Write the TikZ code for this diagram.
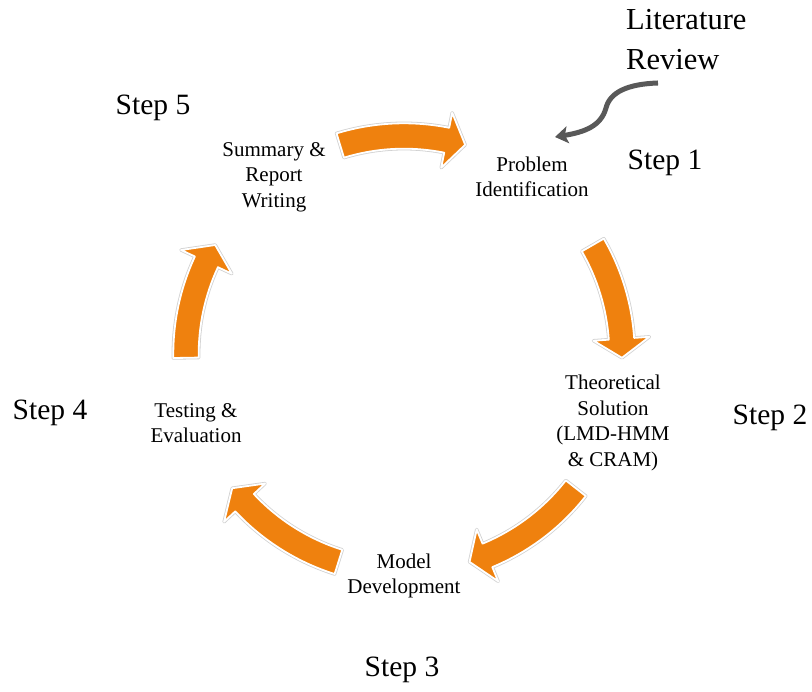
\documentclass[tikz,border=0pt]{standalone}
\usepackage{fontspec}
\setmainfont{Liberation Serif}
\usetikzlibrary{arrows.meta}

\definecolor{cycleorange}{RGB}{239,129,14}
\definecolor{leadgrey}{RGB}{89,89,89}

\tikzset{
  steplabel/.style={font=\fontsize{29.5}{35}\selectfont, inner sep=0pt},
  phase/.style={font=\fontsize{21}{25.5}\selectfont, align=center, inner sep=0pt},
  cycleshadow/.style={draw=black!18, line width=3.4pt, line join=round},
  cyclebody/.style={fill=cycleorange, draw=white, line width=1.8pt, line join=round},
  leadarrow/.style={draw=leadgrey, line width=5pt,
    -{Stealth[length=13pt,width=17pt,inset=3pt]}},
}

% Curved block arrow on the cycle ring, running clockwise
% from angle #1 (tail) to angle #2 (tip).
\newcommand\cyclearrow[2]{%
  \pgfmathsetmacro\headback{#2+5}%
  \path[cycleshadow] (#1:230.7) arc[start angle=#1,end angle=\headback,radius=230.7]
    -- (\headback:246) -- (#2:218) -- (\headback:190) -- (\headback:205.3)
    arc[start angle=\headback,end angle=#1,radius=205.3] -- cycle;
  \path[cyclebody] (#1:230.7) arc[start angle=#1,end angle=\headback,radius=230.7]
    -- (\headback:246) -- (#2:218) -- (\headback:190) -- (\headback:205.3)
    arc[start angle=\headback,end angle=#1,radius=205.3] -- cycle;
}

\begin{document}
\begin{tikzpicture}[x=1pt,y=1pt]
  \useasboundingbox (0,0) rectangle (812,692);

  % ring of process arrows
  \begin{scope}[shift={(404,338)}]
    \cyclearrow{107}{73.7}
    \cyclearrow{30}{-1}
    \cyclearrow{-38}{-72.5}
    \cyclearrow{-107.5}{-142}
    \cyclearrow{181}{150}
  \end{scope}

  % phases
  \node[phase] (problem) at (532,515) {Problem\\Identification};
  \node[phase] (theory) at (613,269) {Theoretical\\Solution\\(LMD-HMM\\\& CRAM)};
  \node[phase] (model) at (404,116) {Model\\Development};
  \node[phase] (testing) at (196,269) {Testing \&\\Evaluation};
  \node[phase] (summary) at (274,515) {Summary \&\\Report\\Writing};

  % step numbers
  \node[steplabel] (step1) at (665,529) {Step 1};
  \node[steplabel] (step2) at (770,274) {Step 2};
  \node[steplabel] (step3) at (402,22) {Step 3};
  \node[steplabel] (step4) at (50,279) {Step 4};
  \node[steplabel] (step5) at (153,584) {Step 5};

  % literature review input
  \node[font=\fontsize{30.5}{40}\selectfont, align=left, inner sep=0pt, anchor=west]
    (litreview) at (626,652) {Literature\\Review};
  \coordinate (leadstart) at (658,609);
  \coordinate (leadend) at (555,555);
  \draw[leadarrow] (leadstart) .. controls (628,608) and (610,600) .. (606,584)
    .. controls (601,566) and (585,560) .. (leadend);
\end{tikzpicture}
\end{document}
